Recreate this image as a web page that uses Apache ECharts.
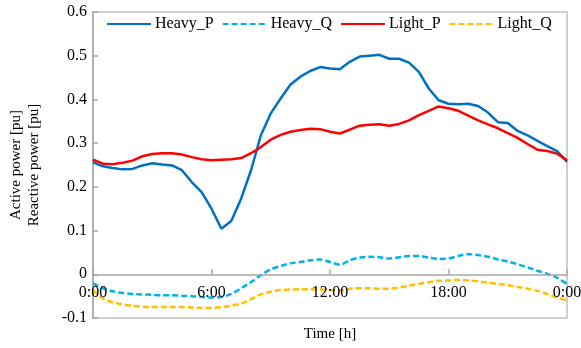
<!DOCTYPE html>
<html>
<head>
<meta charset="utf-8">
<script src="https://cdn.jsdelivr.net/npm/echarts@6/dist/echarts.min.js"></script>
<style>
  html, body { margin: 0; padding: 0; background: #fff; }
  #chart { width: 581px; height: 348px; }
</style>
</head>
<body>
<div id="chart"></div>
<script>
// Time of day in hours, half-hour steps from 0:00 to 24:00
const hours = [];
for (let i = 0; i <= 48; i++) hours.push(i / 2);

const xTicks = ['0:00', '6:00', '12:00', '18:00', '0:00'];

const heavyP = [0.256, 0.247, 0.243, 0.240, 0.241, 0.249, 0.254, 0.251, 0.249, 0.238,
  0.211, 0.188, 0.150, 0.104, 0.122, 0.173, 0.238, 0.318, 0.368, 0.402,
  0.434, 0.452, 0.465, 0.474, 0.471, 0.469, 0.486, 0.498, 0.500, 0.502,
  0.493, 0.493, 0.484, 0.463, 0.425, 0.398, 0.390, 0.389, 0.390, 0.385,
  0.370, 0.348, 0.346, 0.328, 0.318, 0.305, 0.293, 0.282, 0.257];

const heavyQ = [-0.021, -0.032, -0.039, -0.043, -0.045, -0.046, -0.047, -0.048, -0.048, -0.049,
  -0.050, -0.052, -0.053, -0.052, -0.045, -0.032, -0.018, -0.002, 0.011, 0.019,
  0.025, 0.028, 0.032, 0.034, 0.028, 0.022, 0.032, 0.038, 0.040, 0.039,
  0.036, 0.039, 0.042, 0.042, 0.038, 0.035, 0.036, 0.042, 0.046, 0.044,
  0.040, 0.034, 0.029, 0.023, 0.016, 0.008, 0.001, -0.008, -0.022];

const lightP = [0.262, 0.253, 0.252, 0.255, 0.260, 0.270, 0.275, 0.277, 0.277, 0.274,
  0.268, 0.263, 0.261, 0.262, 0.263, 0.266, 0.277, 0.291, 0.308, 0.319,
  0.326, 0.330, 0.333, 0.332, 0.326, 0.322, 0.331, 0.340, 0.342, 0.343,
  0.340, 0.344, 0.352, 0.364, 0.374, 0.384, 0.380, 0.374, 0.363, 0.352,
  0.343, 0.334, 0.323, 0.312, 0.298, 0.285, 0.282, 0.276, 0.261];

const lightQ = [-0.036, -0.055, -0.064, -0.069, -0.072, -0.074, -0.075, -0.075, -0.075, -0.075,
  -0.076, -0.077, -0.077, -0.075, -0.072, -0.067, -0.057, -0.046, -0.040, -0.036,
  -0.035, -0.034, -0.034, -0.035, -0.036, -0.037, -0.033, -0.032, -0.032, -0.033,
  -0.033, -0.030, -0.026, -0.022, -0.018, -0.015, -0.014, -0.013, -0.014, -0.016,
  -0.019, -0.022, -0.025, -0.029, -0.033, -0.038, -0.045, -0.053, -0.060];

const yMin = -0.1, yMax = 0.6;
const pair = (ys) => hours.map((h, i) => [h, ys[i]]);
const FONT = 'Liberation Serif';

// plot box geometry
const GRID = { left: 93, right: 14, top: 12, bottom: 30 };
const plotH = 348 - GRID.top - GRID.bottom;
// lift the time axis from the bottom edge up to the zero line
const zeroLift = plotH * (0 - yMin) / (yMax - yMin);

function lineSeries(name, ys, color, dashed, smooth) {
  return {
    name: name,
    type: 'line',
    data: pair(ys),
    showSymbol: false,
    symbol: 'none',
    smooth: smooth ? 0.3 : false,
    color: color,
    lineStyle: { color: color, width: 2.5, type: dashed ? [6, 3] : 'solid' },
    itemStyle: { color: color },
    z: dashed ? 2 : 3
  };
}

const chart = echarts.init(document.getElementById('chart'), null, { renderer: 'canvas' });
chart.setOption({
  animation: false,
  backgroundColor: '#fff',
  textStyle: { fontFamily: FONT, color: '#000' },
  grid: {
    left: GRID.left, right: GRID.right, top: GRID.top, bottom: GRID.bottom,
    containLabel: false, outerBoundsMode: 'none',
    show: true, borderColor: '#c0c0c0', borderWidth: 1.5, backgroundColor: 'transparent'
  },
  legend: {
    top: 11, left: 101,
    itemWidth: 44, itemHeight: 14, itemGap: 8,
    itemStyle: { opacity: 0 },
    textStyle: { fontFamily: FONT, fontSize: 16, color: '#000', padding: [0, 0, 0, -1] },
    data: ['Heavy_P', 'Heavy_Q', 'Light_P', 'Light_Q']
  },
  xAxis: {
    type: 'value', min: 0, max: 24, interval: 6,
    offset: -zeroLift,
    z: 5,
    name: 'Time [h]', nameLocation: 'middle', nameGap: 52,
    nameTextStyle: { fontFamily: FONT, fontSize: 15, color: '#000' },
    axisLine: { onZero: false, lineStyle: { color: '#a6a6a6', width: 1.5 } },
    axisTick: { inside: true, length: 5, lineStyle: { color: '#a6a6a6', width: 1.5 } },
    axisLabel: {
      fontFamily: FONT, fontSize: 16, color: '#000', margin: 11,
      showMinLabel: true, showMaxLabel: true,
      formatter: (v) => xTicks[Math.round(v / 6)]
    },
    splitLine: { show: false }
  },
  yAxis: {
    type: 'value', min: yMin, max: yMax, interval: 0.1,
    name: 'Active power [pu]\nReactive power [pu]', nameLocation: 'middle', nameGap: 50,
    nameRotate: 90,
    nameTextStyle: { fontFamily: FONT, fontSize: 15, color: '#000', lineHeight: 18 },
    axisLine: { show: true, lineStyle: { color: '#a6a6a6', width: 1.5 } },
    axisTick: { show: true, inside: true, length: 5, lineStyle: { color: '#a6a6a6', width: 1.5 } },
    axisLabel: {
      fontFamily: FONT, fontSize: 16, color: '#000', margin: 6,
      formatter: (v) => (Math.abs(v) < 1e-9 ? '0' : String(Math.round(v * 10) / 10))
    },
    splitLine: { show: false }
  },
  series: [
    lineSeries('Heavy_P', heavyP, '#0070C0', false, false),
    lineSeries('Heavy_Q', heavyQ, '#00B0F0', true, true),
    lineSeries('Light_P', lightP, '#FF0000', false, false),
    lineSeries('Light_Q', lightQ, '#FFC000', true, true)
  ]
});
</script>
</body>
</html>
